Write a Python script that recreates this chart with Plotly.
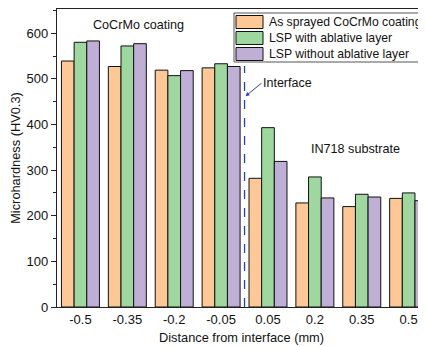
import plotly.graph_objects as go

categories = ["-0.5", "-0.35", "-0.2", "-0.05", "0.05", "0.2", "0.35", "0.5"]
series_names = ["As sprayed CoCrMo coating", "LSP with ablative layer", "LSP without ablative layer"]
as_sprayed = [539, 527, 519, 524, 282, 228, 220, 238]
lsp_with = [580, 572, 507, 533, 393, 285, 247, 250]
lsp_without = [583, 577, 518, 527, 319, 239, 241, 233]
colors = ["#FDC895", "#9ED89F", "#BFAED5"]

xs = list(range(len(categories)))
fig = go.Figure()
for name, vals, c in zip(series_names, [as_sprayed, lsp_with, lsp_without], colors):
    fig.add_trace(go.Bar(x=xs, y=vals, name=name, marker=dict(color=c, line=dict(color="#111111", width=1)),
                         showlegend=False))

font = "Liberation Sans, Arial, sans-serif"
# page body has an 8px margin, so the figure is 8px smaller than the window
fig.update_layout(
    width=418, height=339,
    margin=dict(l=49, r=0, t=1, b=40),
    plot_bgcolor="white", paper_bgcolor="white",
    barmode="group", bargap=0.19, bargroupgap=0,
    font=dict(family=font, size=12, color="#111111"),
    xaxis=dict(range=[-0.5, 7.37], tickvals=xs, ticktext=categories, showline=True, linecolor="#222222",
               linewidth=1.3, mirror=True, ticks="", showgrid=False, zeroline=False, automargin=False,
               tickfont=dict(size=13), title=dict(text="Distance from interface (mm)", font=dict(size=12.8), standoff=7)),
    yaxis=dict(range=[0, 653], dtick=100, showline=True, linecolor="#222222", linewidth=1.3, ticks="outside",
               ticklen=5, tickwidth=1, tickcolor="#222222", showgrid=False, zeroline=False, automargin=False,
               minor=dict(dtick=50, ticks="outside", ticklen=3, tickcolor="#222222"),
               tickfont=dict(size=13), title=dict(text="Microhardness (HV0.3)", font=dict(size=12.8), standoff=3)),
)

# interface line
fig.add_shape(type="line", x0=3.5, x1=3.5, y0=0, y1=528, xref="x", yref="y",
              line=dict(color="#2343A8", width=1.3, dash="dash"))
fig.add_annotation(x=3.52, y=462, xref="x", yref="y", text="Interface", showarrow=True, arrowhead=2,
                   arrowsize=0.8, arrowwidth=1, arrowcolor="#2343A8", ax=16, ay=-13, xanchor="left",
                   font=dict(size=12.5))
fig.add_annotation(x=1.24, y=617, xref="x", yref="y", text="CoCrMo coating", showarrow=False, font=dict(size=12.6))
fig.add_annotation(x=5.86, y=347, xref="x", yref="y", text="IN718 substrate", showarrow=False, font=dict(size=12.6))

# legend (manual, paper coordinates; window pixel -> paper)
W, H = 369, 298
def px(x):
    return (x - 57) / W
def py(y):
    return (307 - y) / H
fig.add_shape(type="rect", xref="paper", yref="paper", x0=px(234), x1=px(440), y0=py(62), y1=py(13),
              line=dict(color="#555555", width=1), fillcolor="white")
rows = [22, 38, 54]
for name, c, ry in zip(series_names, colors, rows):
    fig.add_shape(type="rect", xref="paper", yref="paper", x0=px(236), x1=px(263), y0=py(ry + 6.5), y1=py(ry - 6.5),
                  line=dict(color="#111111", width=1), fillcolor=c)
    fig.add_annotation(xref="paper", yref="paper", x=px(267), y=py(ry), text=name, showarrow=False,
                       xanchor="left", yanchor="middle", font=dict(size=12.2))

fig.write_html("out.html")
